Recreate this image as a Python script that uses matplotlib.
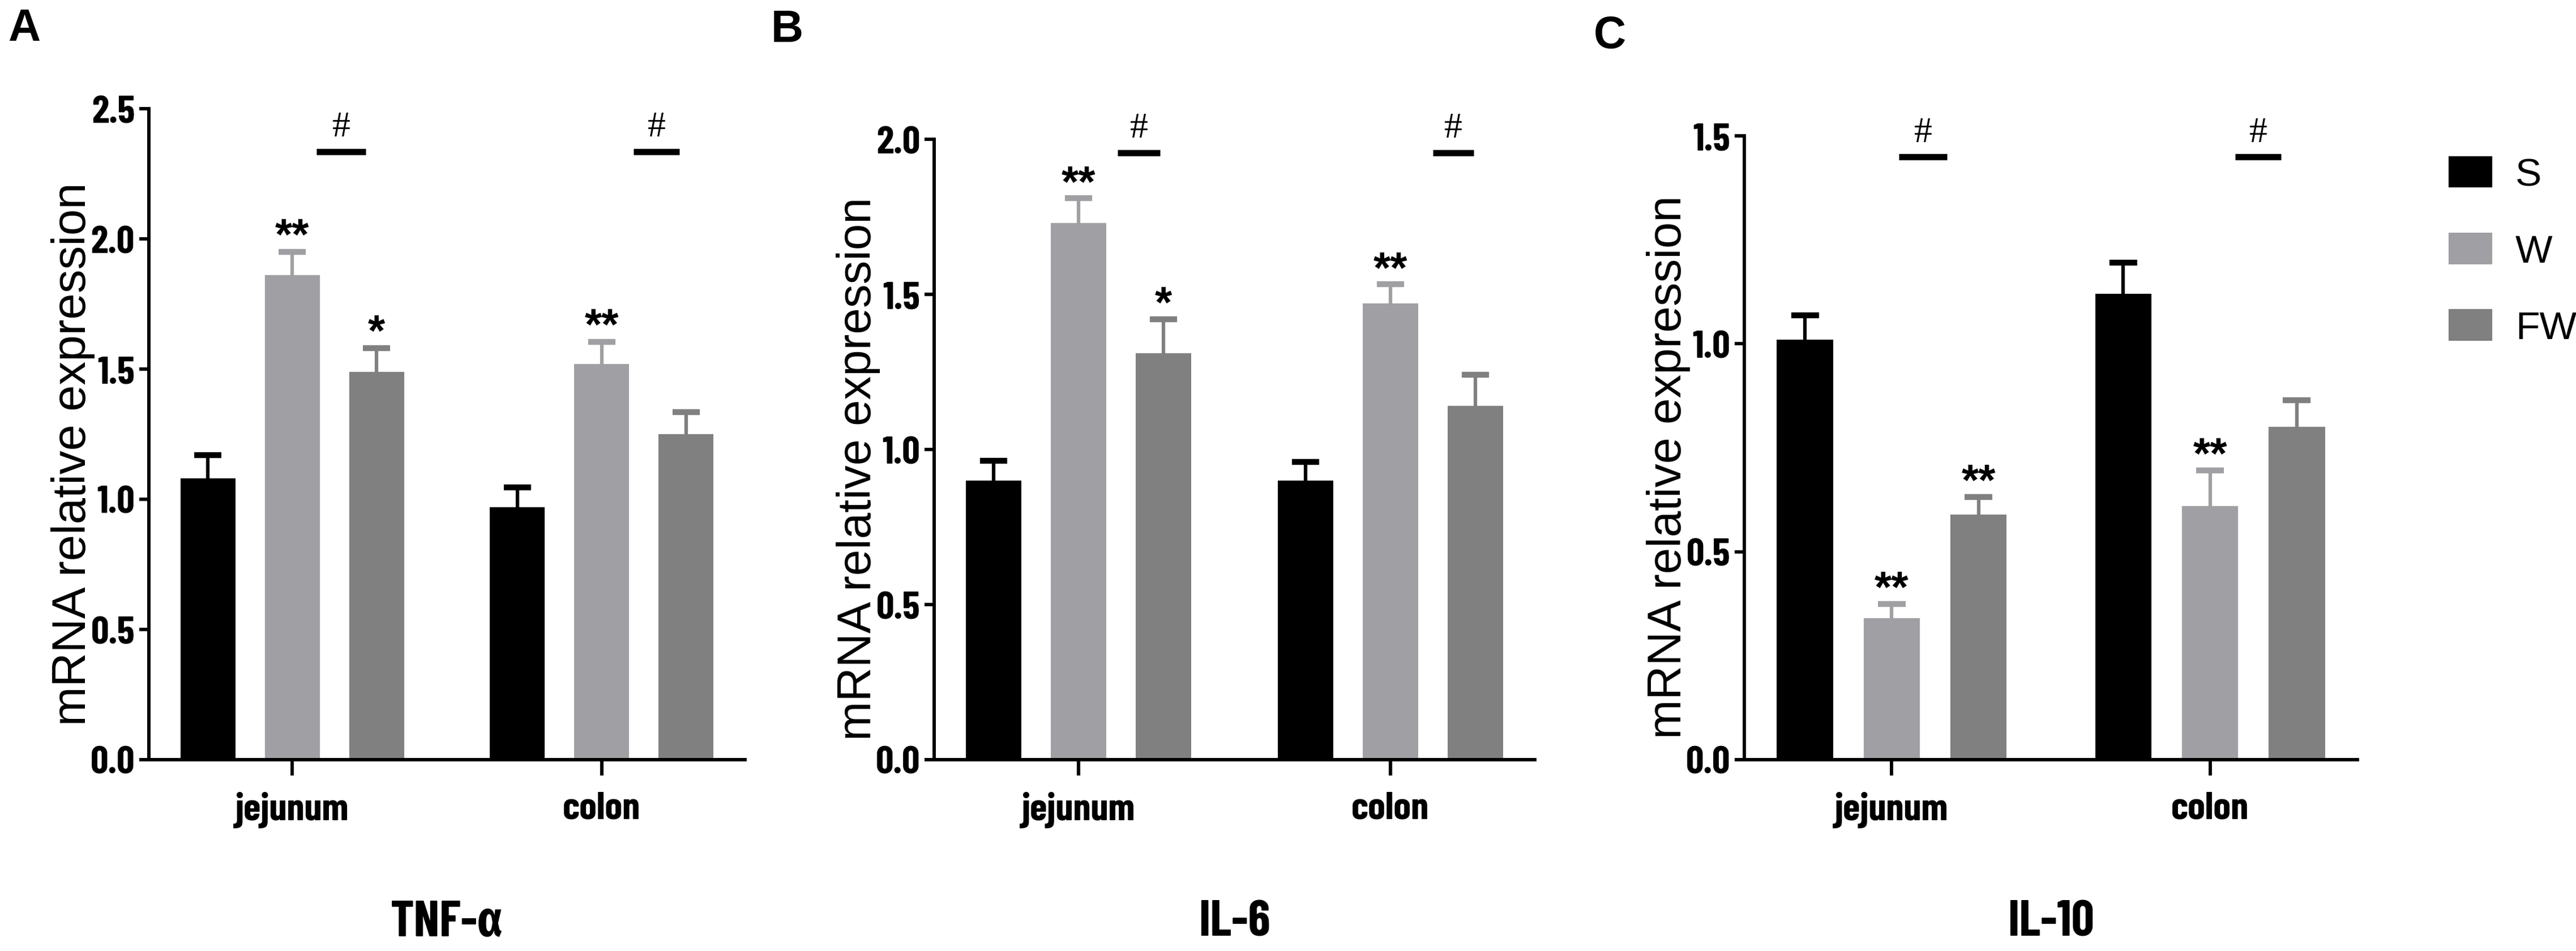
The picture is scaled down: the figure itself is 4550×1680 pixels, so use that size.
import numpy as np
import matplotlib.pyplot as plt

# %% data
groups = ['jejunum', 'colon']
series = ['S', 'W', 'FW']
colors = ['#000000', '#a0a0a4', '#808080']

# rows = series (S, W, FW), cols = groups (jejunum, colon)
tnf_mean = [[1.08, 0.97], [1.86, 1.52], [1.49, 1.25]]
tnf_err = [[0.09, 0.075], [0.09, 0.085], [0.09, 0.085]]
tnf_sig = [['', ''], ['**', '**'], ['*', '']]

il6_mean = [[0.90, 0.90], [1.73, 1.47], [1.31, 1.14]]
il6_err = [[0.063, 0.06], [0.08, 0.062], [0.11, 0.10]]
il6_sig = [['', ''], ['**', '**'], ['*', '']]

il10_mean = [[1.01, 1.12], [0.34, 0.61], [0.59, 0.80]]
il10_err = [[0.058, 0.075], [0.035, 0.086], [0.042, 0.064]]
il10_sig = [['', ''], ['**', '**'], ['**', '']]

titles = ['TNF-α', 'IL-6', 'IL-10']
letters = ['A', 'B', 'C']
ymax = [2.5, 2.0, 1.5]
yticks = [np.arange(0, 2.51, 0.5), np.arange(0, 2.01, 0.5), np.arange(0, 1.51, 0.5)]
hash_y = [2.335, 1.957, 1.449]

# %% layout (pixels of the 4550x1681 canvas)
W_PX, H_PX = 4550, 1681
ax_px = [(263, 1316, 193), (1650, 2711, 247), (3081, 4164, 241)]   # left, right, top
y0_px = 1343
# # line span relative to W bar centre, per panel / group
hash_span = [[(0.29, 0.87), (0.38, 0.92)],
             [(0.46, 0.96), (0.50, 0.98)],
             [(0.08, 0.64), (0.29, 0.82)]]
letter_px = [(43, 51), (1390, 53), (2843, 64)]

group_sep = 3.67
bar_w = 0.65

narrow = ['Barlow Condensed', 'Fira Sans Extra Condensed', 'Liberation Sans', 'DejaVu Sans']
plain = ['Liberation Sans', 'DejaVu Sans']

fig = plt.figure(figsize=(W_PX / 100, H_PX / 100), dpi=100)

panels = [(tnf_mean, tnf_err, tnf_sig), (il6_mean, il6_err, il6_sig),
          (il10_mean, il10_err, il10_sig)]

for p, (mean, err, sig) in enumerate(panels):
    l, r, t = ax_px[p]
    ax = fig.add_axes([l / W_PX, (H_PX - y0_px) / H_PX, (r - l) / W_PX, (y0_px - t) / H_PX])
    mean = np.array(mean)
    err = np.array(err)
    centers = np.arange(len(groups)) * group_sep
    for s in range(len(series)):
        x = centers + (s - 1)
        ax.bar(x, mean[s], width=bar_w, color=colors[s], label=series[s], zorder=2)
        # upper error bar only
        ax.vlines(x, mean[s], mean[s] + err[s], color=colors[s], lw=4.5, zorder=2)
        ax.hlines(mean[s] + err[s], x - 0.16, x + 0.16, color=colors[s], lw=7.5, zorder=2)
        for g in range(len(groups)):
            if sig[s][g]:
                ax.text(x[g], mean[s][g] + err[s][g] + 0.022 * ymax[p], sig[s][g],
                        ha='center', va='center', fontsize=56, family=plain,
                        fontweight='bold', zorder=3)
    # # brackets
    for g in range(len(groups)):
        a, b = hash_span[p][g]
        ax.plot([centers[g] + a, centers[g] + b], [hash_y[p], hash_y[p]],
                color='black', lw=8, solid_capstyle='butt', clip_on=False)
        ax.text(centers[g] + (a + b) / 2, hash_y[p] + 0.012 * ymax[p], '#',
                ha='center', va='bottom', fontsize=46, family=['Liberation Serif', 'DejaVu Serif'])

    ax.set_xlim(-1.70, 5.37)
    ax.set_ylim(0, ymax[p])
    ax.set_yticks(yticks[p])
    ax.set_yticklabels(['%.1f' % v for v in yticks[p]])
    ax.set_xticks(centers)
    ax.set_xticklabels(groups)
    for sp in ['top', 'right']:
        ax.spines[sp].set_visible(False)
    for sp in ['left', 'bottom']:
        ax.spines[sp].set_linewidth(4.3)
    ax.tick_params(axis='y', length=12, width=4.3, pad=6, labelsize=50)
    ax.tick_params(axis='x', length=20, width=4.3, pad=20, labelsize=50)
    for lab in ax.get_yticklabels() + ax.get_xticklabels():
        lab.set_family(narrow)
        lab.set_fontweight('bold')
    ax.set_ylabel('mRNA relative expression', fontsize=60, family=plain)
    ax.yaxis.set_label_coords(-95 / (r - l), 0.47)
    ax.set_xlabel(titles[p], fontsize=64, family=narrow, fontweight='bold', labelpad=92)

    lx, ly = letter_px[p]
    fig.text(lx / W_PX, 1 - ly / H_PX, letters[p], fontsize=57, fontweight='bold',
             family=plain, ha='center', va='center')

    if p == 2:
        leg = ax.legend(loc='upper left', bbox_to_anchor=(4325 / W_PX, 1 - 277 / H_PX),
                        bbox_transform=fig.transFigure, frameon=False,
                        prop={'family': plain, 'size': 50},
                        handlelength=1.11, handleheight=0.85, handletextpad=0.59,
                        labelspacing=1.0, borderaxespad=0, borderpad=0)

fig.savefig('out.png', dpi=100, facecolor='white')
